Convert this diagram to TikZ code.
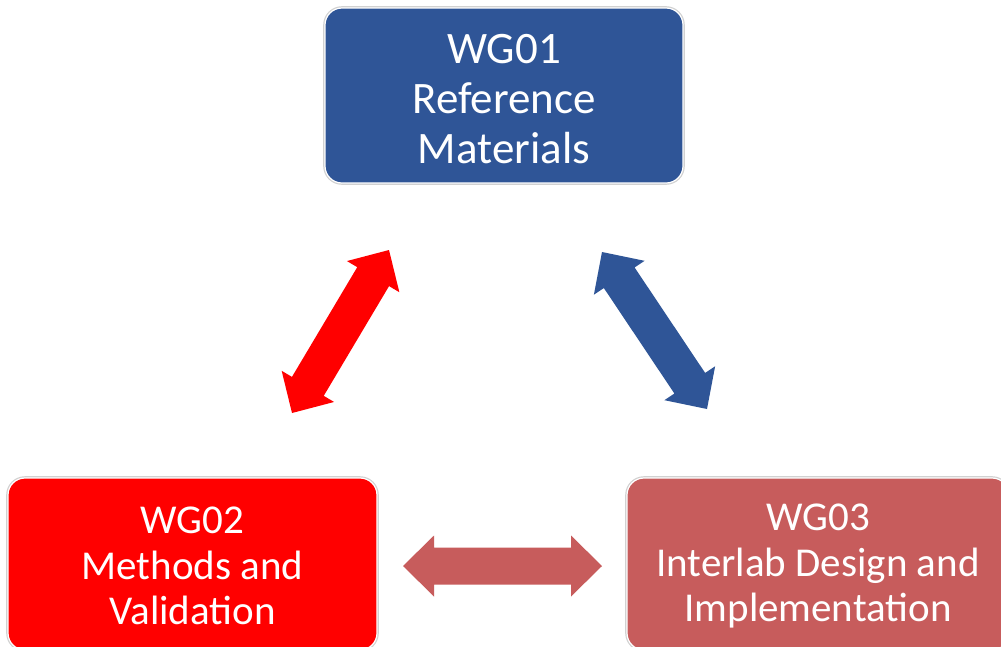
\documentclass[tikz,border=0pt]{standalone}
\usepackage{fontspec}
\setmainfont{Carlito}
\usetikzlibrary{calc}
\definecolor{wgblue}{RGB}{47,85,151}
\definecolor{wgred}{RGB}{255,0,0}
\definecolor{wgrose}{RGB}{199,92,92}
\tikzset{
  wgbox/.style={rounded corners=17pt, draw=white, line width=1.2pt,
    preaction={draw=black!18, line width=3.6pt},
    text=white, align=center, inner sep=0pt},
  bigtext/.style={font=\fontsize{45}{50}\selectfont},
  smalltext/.style={font=\fontsize{41}{45.5}\selectfont},
}
\newcommand\blockarrow[3]{%
  \coordinate (hA) at ($(#2)!31pt!(#3)$);
  \coordinate (hB) at ($(#3)!31pt!(#2)$);
  \fill[#1] (#2) -- ($(hA)!30.5pt!90:(#2)$) -- ($(hA)!18.5pt!90:(#2)$)
    -- ($(hB)!18.5pt!-90:(#3)$) -- ($(hB)!30.5pt!-90:(#3)$) -- (#3)
    -- ($(hB)!30.5pt!90:(#3)$) -- ($(hB)!18.5pt!90:(#3)$)
    -- ($(hA)!18.5pt!-90:(#2)$) -- ($(hA)!30.5pt!-90:(#2)$) -- cycle;
}
\begin{document}
\begin{tikzpicture}[x=1pt,y=-1pt]
\clip (0,0) rectangle (1001,646);
\fill[white] (0,0) rectangle (1001,646);
\node[wgbox, bigtext, fill=wgblue, minimum width=358pt, minimum height=175pt] (wg1) at (504,95.5) {\rule{0pt}{37pt}WG01\\Reference\\Materials};
\node[wgbox, smalltext, fill=wgred, minimum width=369pt, minimum height=172pt] (wg2) at (192.5,564) {\rule{0pt}{31pt}WG02\\Methods and\\Validation};
\node[wgbox, smalltext, fill=wgrose, minimum width=382pt, minimum height=172pt] (wg3) at (818,564) {\rule{0pt}{31pt}WG03\\Interlab Design and\\Implementation};
\coordinate (r1) at (389,250);
\coordinate (r2) at (292,413);
\coordinate (b1) at (602,252);
\coordinate (b2) at (707,409);
\coordinate (h1) at (403,566);
\coordinate (h2) at (602,566);
\blockarrow{wgred}{r1}{r2}
\blockarrow{wgblue}{b1}{b2}
\blockarrow{wgrose}{h1}{h2}
\end{tikzpicture}
\end{document}
